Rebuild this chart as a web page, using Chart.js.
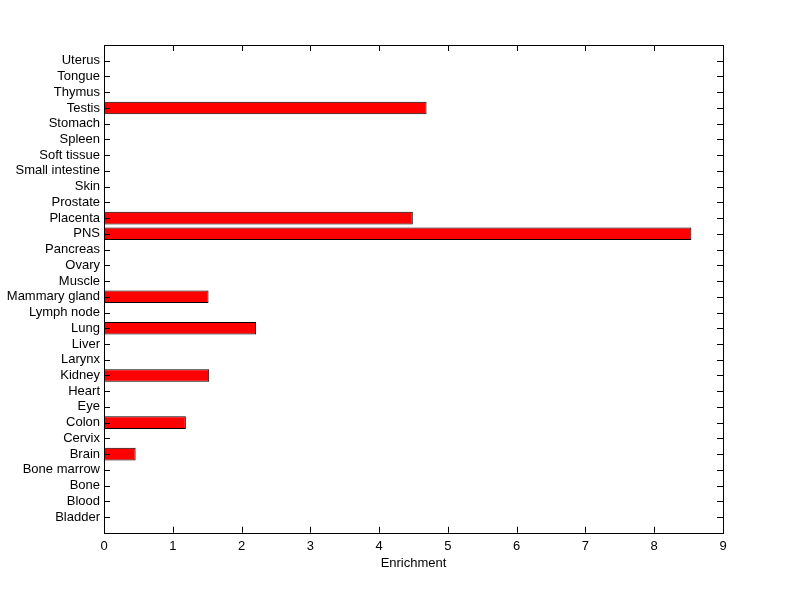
<!DOCTYPE html>
<html>
<head>
<meta charset="utf-8">
<script src="https://cdn.jsdelivr.net/npm/chart.js@4/dist/chart.umd.min.js"></script>
<style>
  html, body { margin: 0; padding: 0; background: #fff; }
  #wrap { width: 800px; height: 599px; }
</style>
</head>
<body>
<div id="wrap"><canvas id="enrich" width="800" height="599"></canvas></div>
<script>
// tissues, bottom to top
const tissues = [
    "Bladder", "Blood", "Bone", "Bone marrow", "Brain", "Cervix", "Colon", "Eye",
    "Heart", "Kidney", "Larynx", "Liver", "Lung", "Lymph node", "Mammary gland",
    "Muscle", "Ovary", "Pancreas", "PNS", "Placenta", "Prostate", "Skin",
    "Small intestine", "Soft tissue", "Spleen", "Stomach", "Testis", "Thymus",
    "Tongue", "Uterus"
];
const enrichment = [
    0, 0, 0, 0, 0.46, 0, 1.19, 0,
    0, 1.53, 0, 0, 2.21, 0, 1.52,
    0, 0, 0, 8.54, 4.49, 0, 0,
    0, 0, 0, 0, 4.69, 0,
    0, 0
];
const xTicks = [0, 1, 2, 3, 4, 5, 6, 7, 8, 9];

const font = { family: "'Liberation Sans', Arial, sans-serif", size: 13 };

// matlab style box with inward tick marks
const matlabBox = {
    id: 'matlabBox',
    afterDatasetsDraw(chart) {
        const { ctx, chartArea: a, scales: { x, y } } = chart;
        const tl = 6;
        ctx.save();
        ctx.strokeStyle = '#000';
        ctx.lineWidth = 1;
        ctx.beginPath();
        x.ticks.forEach(t => {
            const px = Math.round(x.getPixelForValue(t.value)) + 0.5;
            ctx.moveTo(px, a.bottom); ctx.lineTo(px, a.bottom - tl);
            ctx.moveTo(px, a.top); ctx.lineTo(px, a.top + tl);
        });
        y.ticks.forEach(t => {
            if (t.value < 1 || t.value > tissues.length) return;
            const py = Math.round(y.getPixelForValue(t.value)) + 0.5;
            ctx.moveTo(a.left, py); ctx.lineTo(a.left + tl, py);
            ctx.moveTo(a.right, py); ctx.lineTo(a.right - tl, py);
        });
        ctx.stroke();
        ctx.strokeRect(Math.round(a.left) + 0.5, Math.round(a.top) + 0.5,
            Math.round(a.right - a.left), Math.round(a.bottom - a.top));
        ctx.restore();
    }
};

new Chart(document.getElementById('enrich'), {
    type: 'bar',
    data: {
        datasets: [{
            data: tissues.map((t, i) => ({ x: enrichment[i], y: i + 1 })),
            backgroundColor: '#ff0000',
            borderColor: '#000000',
            borderWidth: 1,
            borderSkipped: false,
            barPercentage: 0.8,
            categoryPercentage: 1.0
        }]
    },
    options: {
        indexAxis: 'y',
        responsive: false,
        animation: false,
        layout: { padding: { left: 0, top: 45, right: 77, bottom: 28 } },
        plugins: {
            legend: { display: false },
            tooltip: { enabled: false }
        },
        scales: {
            x: {
                type: 'linear',
                min: 0,
                max: 9,
                afterBuildTicks: s => { s.ticks = xTicks.map(v => ({ value: v })); },
                grid: { display: false, drawTicks: false },
                border: { display: false },
                ticks: { color: '#000', font: font, padding: 6, maxRotation: 0 },
                title: { display: true, text: 'Enrichment', color: '#000', font: font, padding: { top: -5, bottom: 0 } }
            },
            y: {
                type: 'linear',
                min: 0,
                max: tissues.length + 1,
                offset: false,
                afterFit: s => { s.width = 104; },
                grid: { display: false, drawTicks: false },
                border: { display: false },
                ticks: {
                    stepSize: 1,
                    autoSkip: false,
                    maxTicksLimit: 50,
                    color: '#000',
                    font: font,
                    padding: 4,
                    callback: v => (v >= 1 && v <= tissues.length) ? tissues[v - 1] : ''
                }
            }
        }
    },
    plugins: [matlabBox]
});
</script>
</body>
</html>
